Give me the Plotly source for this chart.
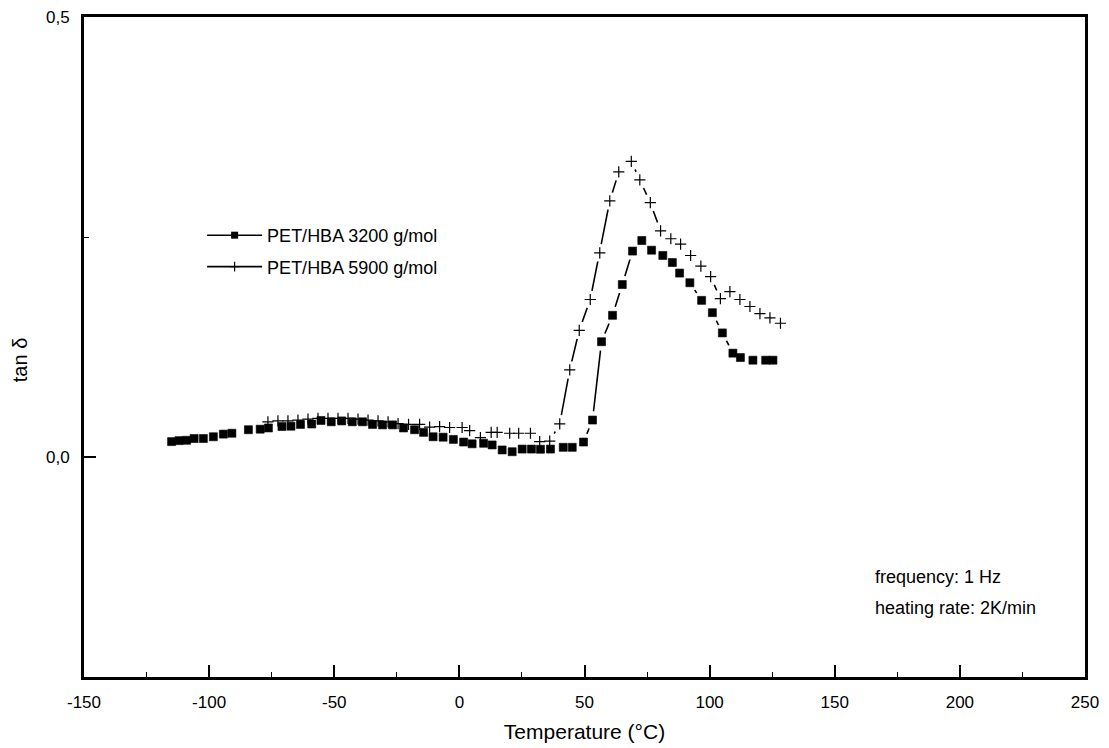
import plotly.graph_objects as go

# ---- data ----
x_3200 = [-115.0, -112.0, -109.0, -106.0, -102.3, -98.3, -94.3, -90.9, -84.3, -79.6,
          -76.3, -70.9, -67.3, -63.5, -59.0, -55.3, -51.2, -47.0, -42.8, -38.7,
          -34.7, -30.7, -26.7, -22.3, -17.9, -14.3, -10.5, -6.5, -2.4, 1.7,
          5.1, 9.7, 13.1, 17.1, 21.1, 25.1, 28.8, 32.4, 36.4, 41.5,
          45.1, 49.6, 53.2, 56.8, 61.2, 65.1, 69.2, 72.9, 76.8, 81.3,
          85.1, 88.0, 92.1, 96.8, 101.1, 105.1, 109.3, 112.3, 117.3, 122.4, 125.3]
y_3200 = [0.0175, 0.0186, 0.019, 0.021, 0.021, 0.023, 0.026, 0.027, 0.031, 0.0316,
          0.033, 0.0346, 0.035, 0.037, 0.0375, 0.0415, 0.040, 0.041, 0.040, 0.040,
          0.037, 0.0365, 0.0365, 0.033, 0.031, 0.028, 0.023, 0.0225, 0.020, 0.017,
          0.015, 0.0156, 0.0137, 0.008, 0.006, 0.009, 0.009, 0.0088, 0.009, 0.011,
          0.011, 0.017, 0.042, 0.131, 0.161, 0.196, 0.234, 0.246, 0.235, 0.229,
          0.221, 0.209, 0.198, 0.178, 0.164, 0.141, 0.118, 0.113, 0.110, 0.110, 0.110]

x_5900 = [-76.5, -72.5, -68.5, -64.5, -60.5, -56.5, -52.5, -48.5, -44.5, -40.5,
          -36.5, -32.5, -28.5, -24.5, -20.3, -15.9, -11.9, -7.9, -3.9, 1.1,
          4.1, 8.4, 12.7, 15.1, 20.1, 23.7, 28.4, 32.1, 36.1, 40.1,
          44.1, 47.9, 52.3, 56.1, 60.1, 63.7, 68.7, 72.1, 76.3, 80.4,
          84.5, 88.4, 92.4, 96.5, 100.4, 104.3, 108.1, 112.1, 116.1, 120.1, 124.1, 128.3]
y_5900 = [0.040, 0.041, 0.041, 0.042, 0.043, 0.044, 0.044, 0.044, 0.044, 0.043,
          0.042, 0.041, 0.040, 0.038, 0.037, 0.037, 0.034, 0.0346, 0.0335, 0.0335,
          0.030, 0.022, 0.028, 0.028, 0.027, 0.027, 0.027, 0.0175, 0.018, 0.0377,
          0.099, 0.144, 0.179, 0.232, 0.291, 0.324, 0.336, 0.315, 0.289, 0.257,
          0.248, 0.242, 0.229, 0.217, 0.205, 0.180, 0.188, 0.179, 0.171, 0.163, 0.158, 0.152]

series_names = ["PET/HBA 3200 g/mol", "PET/HBA 5900 g/mol"]
x_tick_vals = [-150, -100, -50, 0, 50, 100, 150, 200, 250]
x_tick_text = ["-150", "-100", "-50", "0", "50", "100", "150", "200", "250"]
y_tick_vals = [0.0, 0.5]
y_tick_text = ["0,0", "0,5"]
y_minor_vals = [0.25]
x_title = "Temperature (°C)"
y_title = "tan δ"
notes = ["frequency: 1 Hz", "heating rate: 2K/min"]

FONT = "Liberation Sans, Arial, Helvetica, sans-serif"
LINE_W = 1.6
HALO = 18

fig = go.Figure()

# connecting lines, with white halos that open a gap around each point
for xs, ys in [(x_3200, y_3200), (x_5900, y_5900)]:
    fig.add_trace(go.Scatter(
        x=xs, y=ys, mode="lines+markers",
        line=dict(color="black", width=LINE_W),
        marker=dict(symbol="circle", size=HALO, color="white", line=dict(width=0)),
        showlegend=False, hoverinfo="skip"))

# the point markers
fig.add_trace(go.Scatter(
    x=x_3200, y=y_3200, mode="markers",
    marker=dict(symbol="square", size=8, color="black", line=dict(width=0.6, color="black")),
    showlegend=False))
fig.add_trace(go.Scatter(
    x=x_5900, y=y_5900, mode="markers",
    marker=dict(symbol="cross-thin", size=8, color="black", line=dict(width=1.2, color="black")),
    showlegend=False))

# legend entries
fig.add_trace(go.Scatter(
    x=[None], y=[None], mode="lines+markers", name=series_names[0], legendgroup="a",
    line=dict(color="black", width=LINE_W),
    marker=dict(symbol="square", size=7, color="black")))
fig.add_trace(go.Scatter(
    x=[None], y=[None], mode="lines+markers", name=series_names[1], legendgroup="b",
    line=dict(color="black", width=LINE_W),
    marker=dict(symbol="cross-thin", size=7, color="black", line=dict(width=1.2, color="black"))))

fig.update_layout(
    width=1109, height=748,
    margin=dict(l=84, r=24, t=17, b=71, autoexpand=False),
    paper_bgcolor="white", plot_bgcolor="white",
    font=dict(family=FONT, color="black", size=16),
    showlegend=True,
    legend=dict(x=0.118, y=0.697, xanchor="left", yanchor="top",
                bgcolor="rgba(0,0,0,0)", font=dict(size=18, family=FONT),
                tracegroupgap=5, itemwidth=55),
)

fig.update_xaxes(
    range=[-150, 250], tickmode="array", tickvals=x_tick_vals, ticktext=x_tick_text,
    ticks="inside", ticklen=12, tickwidth=1.5, tickcolor="black",
    minor=dict(dtick=25, tick0=0, ticks="inside", ticklen=5, tickwidth=1.2, tickcolor="black"),
    showline=True, linewidth=3, linecolor="black", mirror=True,
    showgrid=False, zeroline=False, ticklabelstandoff=8,
    tickfont=dict(size=17, family=FONT),
    title=dict(text=x_title, font=dict(size=21, family=FONT), standoff=13),
)
fig.update_yaxes(
    range=[-0.25, 0.5], tickmode="array", tickvals=y_tick_vals, ticktext=y_tick_text,
    ticks="inside", ticklen=12, tickwidth=1.5, tickcolor="black",
    minor=dict(tickvals=y_minor_vals, ticks="inside", ticklen=5, tickwidth=1.2, tickcolor="black"),
    showline=True, linewidth=3, linecolor="black", mirror=True,
    showgrid=False, zeroline=False, ticklabelstandoff=8,
    tickfont=dict(size=17, family=FONT),
)

fig.add_annotation(text=y_title, xref="paper", yref="paper", x=0, y=0.48,
                   xshift=-64, textangle=-90, showarrow=False,
                   font=dict(size=20, family=FONT), xanchor="center", yanchor="middle")
for txt, yp in zip(notes, [0.1515, 0.1045]):
    fig.add_annotation(text=txt, xref="paper", yref="paper", x=0.788, y=yp,
                       xanchor="left", yanchor="middle", showarrow=False,
                       font=dict(size=18, family=FONT))

fig.write_html("out.html")
